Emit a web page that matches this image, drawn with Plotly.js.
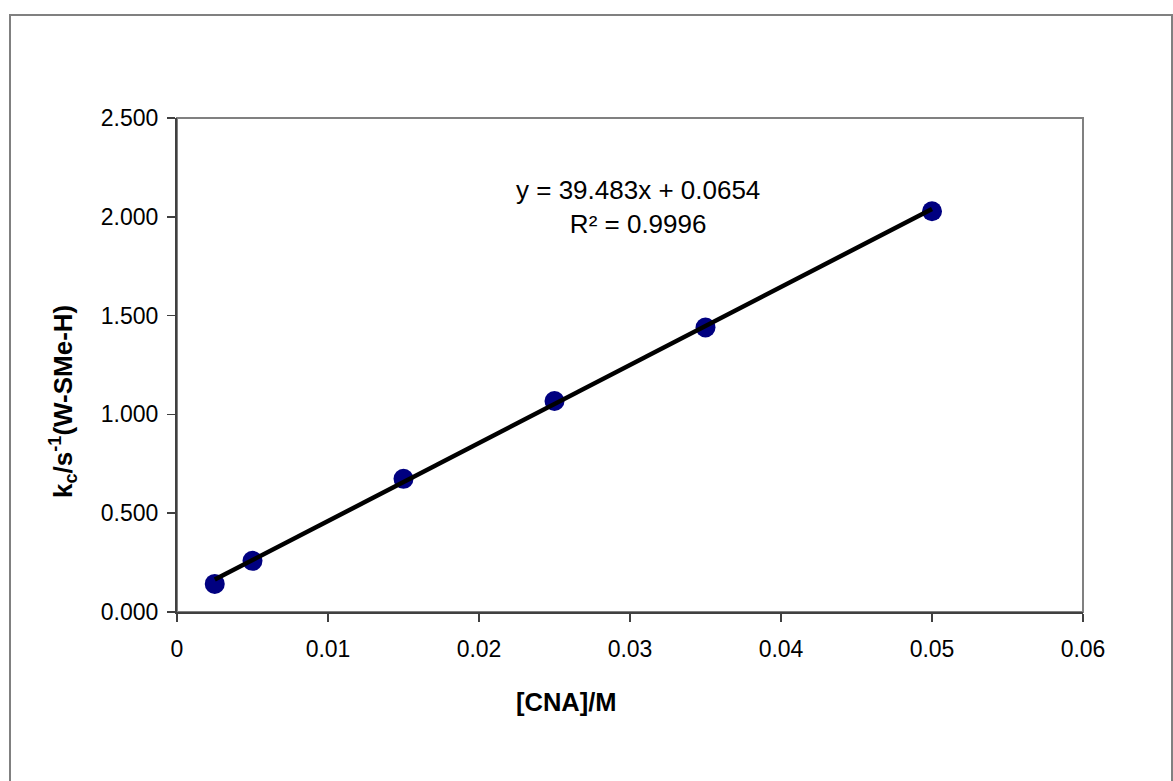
<!DOCTYPE html>
<html>
<head>
<meta charset="utf-8">
<script src="https://cdn.plot.ly/plotly-3.0.1.min.js"></script>
<style>
  html, body { margin: 0; padding: 0; background: #ffffff; overflow: hidden; }
  #frame {
    position: absolute; left: 9px; top: 14px; width: 1164px; height: 800px;
    border: 2px solid #808080; box-sizing: border-box; pointer-events: none; z-index: 5;
  }
  #chart { position: absolute; left: 0; top: 0; width: 1173px; height: 781px; }
</style>
</head>
<body>
<div id="chart"></div>
<div id="frame"></div>
<script>
// CNA concentration (M) and observed rate constant k_c (s^-1)
const cnaConc = [0.0025, 0.005, 0.015, 0.025, 0.035, 0.05];
const kObs = [0.142, 0.259, 0.674, 1.068, 1.440, 2.028];

// Linear least-squares fit reported on the chart
const fitSlope = 39.483;
const fitIntercept = 0.0654;
const fitR2 = 0.9996;

const xTicks = [0, 0.01, 0.02, 0.03, 0.04, 0.05, 0.06];
const xTickText = ['0', '0.01', '0.02', '0.03', '0.04', '0.05', '0.06'];
const yTicks = [0, 0.5, 1.0, 1.5, 2.0, 2.5];
const yTickText = ['0.000', '0.500', '1.000', '1.500', '2.000', '2.500'];

const fitX = [cnaConc[0], cnaConc[cnaConc.length - 1]];
const fitY = fitX.map(x => fitSlope * x + fitIntercept);

const font = 'Liberation Sans, Arial, sans-serif';

const traces = [
  {
    x: cnaConc, y: kObs, type: 'scatter', mode: 'markers',
    marker: { color: '#000080', size: 20, line: { width: 0 } },
    hoverinfo: 'x+y'
  },
  {
    x: fitX, y: fitY, type: 'scatter', mode: 'lines',
    line: { color: '#000000', width: 4.5 },
    hoverinfo: 'skip'
  }
];

const layout = {
  width: 1173, height: 781,
  margin: { l: 177, r: 90, t: 118, b: 169 },
  paper_bgcolor: '#ffffff', plot_bgcolor: '#ffffff',
  showlegend: false,
  font: { family: font, size: 23, color: '#000000' },
  xaxis: {
    range: [0, 0.06], tickvals: xTicks, ticktext: xTickText,
    showgrid: false, zeroline: false,
    showline: true, linecolor: '#404040', linewidth: 2,
    ticks: 'outside', ticklen: 8, tickwidth: 1.5, tickcolor: '#404040',
    ticklabelstandoff: 7,
    tickfont: { family: font, size: 23, color: '#000000' }
  },
  yaxis: {
    range: [0, 2.5], tickvals: yTicks, ticktext: yTickText,
    showgrid: false, zeroline: false,
    showline: true, linecolor: '#404040', linewidth: 2,
    ticks: 'outside', ticklen: 8, tickwidth: 1.5, tickcolor: '#404040',
    ticklabelstandoff: 4,
    tickfont: { family: font, size: 23, color: '#000000' }
  },
  shapes: [
    {
      type: 'rect', xref: 'paper', yref: 'paper', x0: 0, x1: 1, y0: 0, y1: 1,
      line: { color: '#808080', width: 2 }, layer: 'below'
    }
  ],
  annotations: [
    {
      xref: 'x', yref: 'y', x: 0.0305, y: 2.05,
      text: 'y = ' + fitSlope + 'x + ' + fitIntercept + '<br>R² = ' + fitR2,
      showarrow: false, align: 'center',
      font: { family: font, size: 26, color: '#000000' }
    },
    {
      xref: 'paper', yref: 'paper', x: 0.430, y: -0.183,
      xanchor: 'center', yanchor: 'middle',
      text: '<b>[CNA]/M</b>', showarrow: false,
      font: { family: font, size: 25.5, color: '#000000' }
    },
    {
      xref: 'paper', yref: 'paper', x: -0.1258, y: 0.425, textangle: -90,
      xanchor: 'center', yanchor: 'middle',
      text: '<b>k<sub>c</sub>/s<sup>-1</sup>(W-SMe-H)</b>', showarrow: false,
      font: { family: font, size: 26, color: '#000000' }
    }
  ]
};

Plotly.newPlot('chart', traces, layout, { displayModeBar: false, staticPlot: true });
</script>
</body>
</html>
